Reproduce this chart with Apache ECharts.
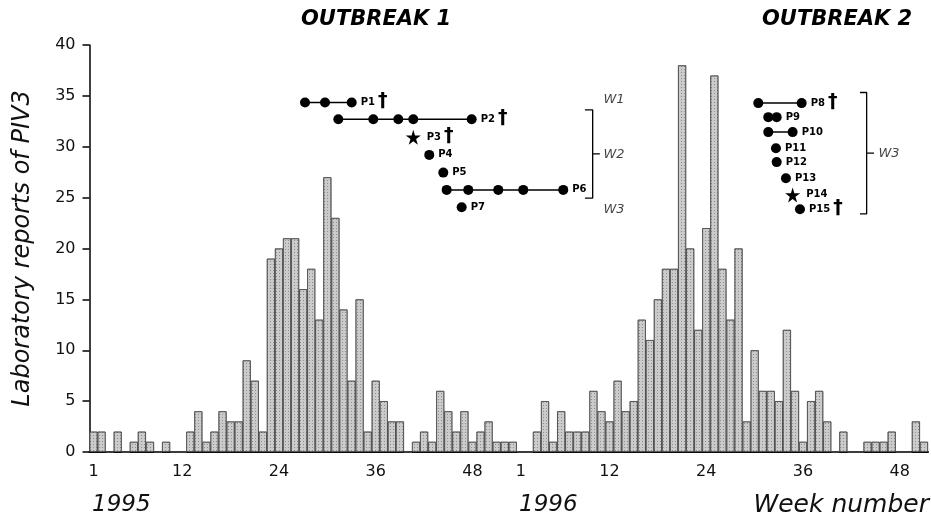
<!DOCTYPE html>
<html>
<head>
<meta charset="utf-8">
<script src="https://cdn.jsdelivr.net/npm/echarts@6/dist/echarts.min.js"></script>
<style>
  html, body { margin: 0; padding: 0; background: #fff; }
  #chart { width: 931px; height: 522px; }
</style>
</head>
<body>
<div id="chart"></div>
<script>
  // weekly laboratory reports of PIV3
  var reports1995 = [2, 2, 0, 2, 0, 1, 2, 1, 0, 1, 0, 0, 2, 4, 1, 2, 4, 3, 3, 9, 7, 2, 19, 20, 21, 21,
    16, 18, 13, 27, 23, 14, 7, 15, 2, 7, 5, 3, 3, 0, 1, 2, 1, 6, 4, 2, 4, 1, 2, 3, 1, 1, 1];
  var reports1996 = [0, 0, 2, 5, 1, 4, 2, 2, 2, 6, 4, 3, 7, 4, 5, 13, 11, 15, 18, 18, 38, 20, 12, 22,
    37, 18, 13, 20, 3, 10, 6, 6, 5, 12, 6, 1, 5, 6, 3, 0, 2, 0, 0, 1, 1, 1, 2, 0, 0, 3, 1];
  var tickWeeks = ['1', '12', '24', '36', '48'];
  var yTicks = [0, 40, 5]; // min, max, step

  // patient timelines (x in week units along the axis, y in report units)
  var patientNames = ['P1', 'P2', 'P3', 'P4', 'P5', 'P6', 'P7',
    'P8', 'P9', 'P10', 'P11', 'P12', 'P13', 'P14', 'P15'];
  var patientRows = [34.35, 32.71, 30.94, 29.2, 27.46, 25.76, 24.06,
    34.29, 32.91, 31.44, 29.86, 28.49, 26.91, 25.27, 23.86];
  var patientDays = [
    [26.73, 29.21, 32.52],
    [30.86, 35.2, 38.3, 40.16, 47.4],
    [40.16],
    [42.14],
    [43.88],
    [44.3, 46.98, 50.7, 53.8, 58.76],
    [46.16],
    [82.95, 88.33],
    [84.19, 85.23],
    [84.19, 87.21],
    [85.14],
    [85.23],
    [86.38],
    [87.21],
    [88.12]
  ];
  var patientDied = ['P1', 'P2', 'P3', 'P8', 'P15'];
  var patientStar = ['P3', 'P14'];

  // ward brackets: [x of spine, x of left ends, top, bottom, x of middle tick end]
  var brackets = [
    [62.41, 61.45, 33.63, 24.95, 63.3],
    [96.39, 95.56, 35.33, 23.4, 97.3]
  ];
  var wardNames = ['W1', 'W2', 'W3', 'W3'];
  var wardPos = [[65.05, 34.6], [65.05, 29.2], [65.05, 23.8], [99.16, 29.3]];

  var years = ['1995', '1996'];

  var categories = [];
  years.forEach(function (y, k) {
    var n = (k === 0 ? reports1995 : reports1996).length;
    for (var w = 1; w <= n; w++) categories.push(y + '-' + w);
  });
  var reports = reports1995.concat(reports1996);

  var FONT = 'DejaVu Sans';
  var starPath = 'path://M50,0 L61,35 L98,35 L68,57 L79,91 L50,70 L21,91 L32,57 L2,35 L39,35 Z';

  var series = [{
    type: 'bar',
    data: reports,
    barCategoryGap: '0%',
    silent: true,
    itemStyle: {
      color: '#cbcbcb',
      borderColor: '#4a4a4a',
      borderWidth: 0.7,
      decal: {
        symbol: 'rect',
        symbolSize: 1,
        dashArrayX: [1, 2],
        dashArrayY: [1, 2],
        color: 'rgba(70,70,70,0.45)'
      }
    }
  }];

  patientNames.forEach(function (name, i) {
    var days = patientDays[i];
    var died = patientDied.indexOf(name) >= 0;
    var star = patientStar.indexOf(name) >= 0;
    var data = days.map(function (d, j) {
      var item = {value: [d, patientRows[i]]};
      if (j === days.length - 1) {
        item.label = {
          show: true,
          position: 'right',
          distance: star ? 6 : 4,
          formatter: died ? '{p|' + name + '}{d|†}' : '{p|' + name + '}',
          rich: {
            p: {fontFamily: FONT, fontSize: 10, fontWeight: 'bold', color: '#000'},
            d: {fontFamily: FONT, fontSize: 19, fontWeight: 'bold', color: '#000', padding: [0, 0, 2, 3]}
          }
        };
      }
      return item;
    });
    series.push({
      type: 'line',
      xAxisIndex: 1,
      yAxisIndex: 0,
      data: data,
      symbol: star ? starPath : 'circle',
      symbolSize: star ? 15 : 10,
      showSymbol: true,
      silent: true,
      itemStyle: {color: '#000'},
      lineStyle: {color: '#000', width: 1.5},
      z: 5
    });
  });

  brackets.forEach(function (b) {
    series.push({
      type: 'line', xAxisIndex: 1, yAxisIndex: 0, symbol: 'none', silent: true,
      lineStyle: {color: '#000', width: 1.3},
      data: [[b[1], b[2]], [b[0], b[2]], [b[0], b[3]], [b[1], b[3]]]
    });
    series.push({
      type: 'line', xAxisIndex: 1, yAxisIndex: 0, symbol: 'none', silent: true,
      lineStyle: {color: '#000', width: 1.3},
      data: [[b[0], (b[2] + b[3]) / 2], [b[4], (b[2] + b[3]) / 2]]
    });
  });

  series.push({
    type: 'scatter', xAxisIndex: 1, yAxisIndex: 0, symbolSize: 0, silent: true,
    data: wardNames.map(function (n, i) { return {name: n, value: wardPos[i]}; }),
    label: {
      show: true, position: 'inside', formatter: '{b}',
      fontFamily: FONT, fontSize: 13, fontStyle: 'italic', color: '#111'
    }
  });

  var titleStyle = {fontFamily: FONT, fontSize: 21, fontWeight: 'bold', fontStyle: 'italic', color: '#000'};

  var chart = echarts.init(document.getElementById('chart'), null, {renderer: 'canvas'});
  chart.setOption({
    animation: false,
    backgroundColor: '#fff',
    title: [
      {text: 'OUTBREAK 1', left: 296, top: 4, textStyle: titleStyle},
      {text: 'OUTBREAK 2', left: 757, top: 4, textStyle: titleStyle}
    ],
    grid: {left: 89.5, right: 3, top: 45, bottom: 70},
    xAxis: [{
      type: 'category',
      data: categories,
      axisLine: {lineStyle: {color: '#000', width: 2}},
      axisTick: {interval: 0, length: 7, lineStyle: {color: '#000', width: 1.5}},
      axisLabel: {
        interval: 0,
        margin: 12,
        fontFamily: FONT,
        fontSize: 16,
        color: '#111',
        formatter: function (v) {
          var w = v.split('-')[1];
          return tickWeeks.indexOf(w) >= 0 ? w : '';
        }
      }
    }, {
      type: 'value', min: 0, max: categories.length, show: false
    }],
    yAxis: {
      type: 'value',
      min: yTicks[0], max: yTicks[1], interval: yTicks[2],
      name: 'Laboratory reports of PIV3',
      nameLocation: 'middle',
      nameGap: 55,
      nameTextStyle: {fontFamily: FONT, fontSize: 24, fontStyle: 'italic', color: '#111'},
      splitLine: {show: false},
      axisLine: {show: true, lineStyle: {color: '#000', width: 1.5}},
      axisTick: {show: true, length: 7, lineStyle: {color: '#000', width: 1.5}},
      axisLabel: {margin: 14, fontFamily: FONT, fontSize: 16, color: '#111'}
    },
    graphic: [
      {type: 'text', left: 92, top: 494,
        style: {text: years[0], fontFamily: FONT, fontSize: 23, fontStyle: 'italic', fill: '#111'}},
      {type: 'text', left: 519, top: 494,
        style: {text: years[1], fontFamily: FONT, fontSize: 23, fontStyle: 'italic', fill: '#111'}},
      {type: 'text', right: 2, top: 493,
        style: {text: 'Week number', fontFamily: FONT, fontSize: 25, fontStyle: 'italic', fill: '#111'}}
    ],
    series: series
  });
</script>
</body>
</html>
